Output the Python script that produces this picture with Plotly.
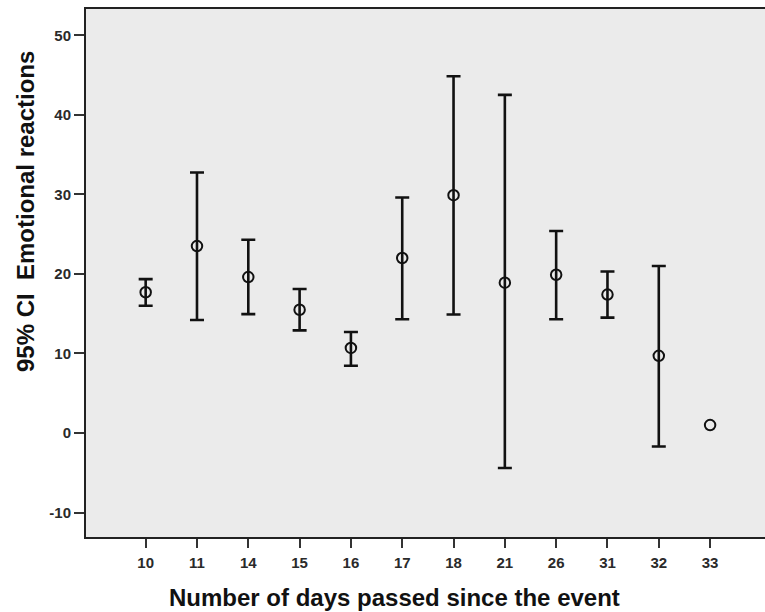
import plotly.graph_objects as go

# Days since the event (category labels) and 95% CI summary per group
days = ["10", "11", "14", "15", "16", "17", "18", "21", "26", "31", "32", "33"]
means = [17.7, 23.5, 19.6, 15.5, 10.7, 22.0, 29.9, 18.9, 19.9, 17.4, 9.7, 1.0]
ci_lower = [16.0, 14.2, 14.95, 12.9, 8.45, 14.3, 14.9, -4.4, 14.3, 14.5, -1.7, None]
ci_upper = [19.35, 32.75, 24.3, 18.1, 12.7, 29.6, 44.85, 42.5, 25.4, 20.3, 21.0, None]
y_ticks = [-10, 0, 10, 20, 30, 40, 50]
y_tick_labels = [str(v) for v in y_ticks]  # plain hyphen for negatives

# Groups with a defined interval get error bars; the last group is a single point
has_ci = [i for i in range(len(days)) if ci_lower[i] is not None]
err_days = [days[i] for i in has_ci]
err_means = [means[i] for i in has_ci]
err_plus = [ci_upper[i] - means[i] for i in has_ci]
err_minus = [means[i] - ci_lower[i] for i in has_ci]

FONT = "Liberation Sans, Arial, sans-serif"

fig = go.Figure()

fig.add_trace(go.Scatter(
    x=err_days, y=err_means, mode="markers",
    marker=dict(size=1, color="rgba(0,0,0,0)"),
    error_y=dict(type="data", symmetric=False, array=err_plus, arrayminus=err_minus,
                 color="#111111", thickness=2.6, width=7),
    showlegend=False, hoverinfo="skip",
))

fig.add_trace(go.Scatter(
    x=days, y=means, mode="markers",
    marker=dict(symbol="circle-open", size=10.5, color="#111111", line=dict(width=2, color="#111111")),
    showlegend=False,
))

fig.update_layout(
    width=765, height=612,
    margin=dict(l=86, r=0, t=9, b=75),
    paper_bgcolor="white",
    plot_bgcolor="#EBEBEB",
    font=dict(family=FONT, color="#222222"),
    xaxis=dict(
        type="category", categoryorder="array", categoryarray=days,
        range=[-1.163, 12.07],
        showgrid=False, zeroline=False,
        showline=True, linecolor="#222222", linewidth=2, mirror=True,
        ticks="outside", ticklen=9, tickwidth=2, tickcolor="#333333",
        ticklabelstandoff=2,
        tickfont=dict(family=FONT, size=15, color="#2a2a2a", weight="bold"),
    ),
    yaxis=dict(
        range=[-13.07, 53.3],
        tickvals=y_ticks, ticktext=y_tick_labels,
        showgrid=False, zeroline=False,
        showline=True, linecolor="#222222", linewidth=2,
        ticks="outside", ticklen=10, tickwidth=2, tickcolor="#333333",
        tickfont=dict(family=FONT, size=15, color="#2a2a2a", weight="bold"),
    ),
    annotations=[
        dict(text="<b>Number of days passed since the event</b>",
             xref="paper", yref="paper", x=0.455, y=-0.1155,
             xanchor="center", yanchor="middle", showarrow=False,
             font=dict(family=FONT, size=24, color="#111111")),
        dict(text="<b>95% CI  Emotional reactions</b>",
             xref="paper", yref="paper", x=-0.0898, y=0.6155,
             xanchor="center", yanchor="middle", showarrow=False, textangle=-90,
             font=dict(family=FONT, size=24, color="#111111")),
    ],
)

fig.write_html("out.html")
